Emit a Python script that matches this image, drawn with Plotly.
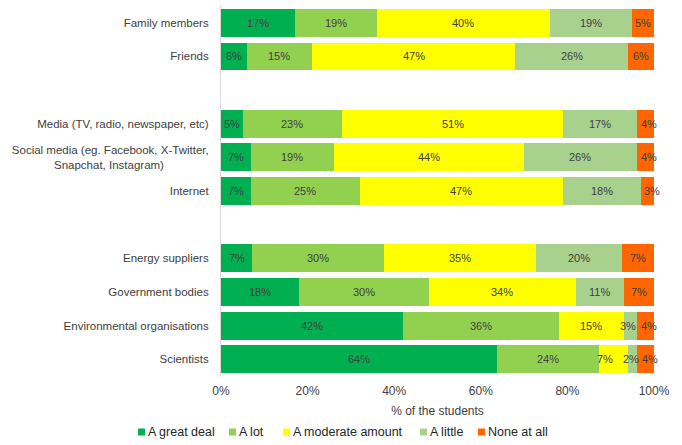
import plotly.graph_objects as go

categories = ["Family members", "Friends", "Media (TV, radio, newspaper, etc)",
              "Social media (eg. Facebook, X-Twitter,<br>Snapchat, Instagram)" + "\u00a0" * 14,
              "Internet", "Energy suppliers", "Government bodies",
              "Environmental organisations", "Scientists"]
slots = [0, 1, 3, 4, 5, 7, 8, 9, 10]

series_names = ["A great deal", "A lot", "A moderate amount", "A little", "None at all"]
great_deal = [17, 6, 5, 7, 7, 7.2, 18, 42, 63.8]
a_lot = [19, 15, 23, 19, 25, 30.4, 30, 36, 23.6]
moderate = [40, 47, 51, 44, 47, 35.1, 34, 15, 6.7]
a_little = [19, 26, 17, 26, 18, 19.9, 11, 3, 2.0]
none_at_all = [5, 6, 4, 4, 3, 7.4, 7, 4, 3.9]
series_values = [great_deal, a_lot, moderate, a_little, none_at_all]
colors = ["#00B050", "#92D050", "#FFFF00", "#A9D18E", "#FF6600"]

x_ticks = [0, 20, 40, 60, 80, 100]
x_ticktext = ["0%", "20%", "40%", "60%", "80%", "100%"]

# manual legend / layout geometry
W, H = 682, 445
ML, MR, MT, MB = 221, 28, 6, 69
PW, PH = W - ML - MR, H - MT - MB
legend_marker_px = [138, 229, 283, 420, 478]
legend_y_px = 432

def px_x(px):
    return (px - ML) / PW

def px_y(py):
    return (H - MB - py) / PH

font_family = "Liberation Sans, Arial, sans-serif"
fig = go.Figure()
annotations = []
shapes = []
cum = [0.0] * len(categories)
n_series = len(series_values)
for si, (name, vals, col) in enumerate(zip(series_names, series_values, colors)):
    fig.add_trace(go.Bar(
        y=slots, x=vals, name=name, orientation="h",
        marker=dict(color=col, line=dict(width=0)),
        width=0.83, textposition="none", hoverinfo="x+name",
        showlegend=False,
    ))
    for i, v in enumerate(vals):
        shift = 0
        if v < 5:
            shift = 4 if si == n_series - 1 else -2
        elif v < 8 and si < n_series - 1 and series_values[si + 1][i] < 5:
            shift = -9
        annotations.append(dict(
            x=cum[i] + v / 2, y=slots[i], xref="x", yref="y", xshift=shift,
            text=f"{round(v)}%", showarrow=False,
            font=dict(size=11, color="#404040", family=font_family),
        ))
        cum[i] += v

for name, col, mx in zip(series_names, colors, legend_marker_px):
    shapes.append(dict(type="rect", xref="paper", yref="paper",
                       x0=px_x(mx), x1=px_x(mx + 7),
                       y0=px_y(legend_y_px + 3.5), y1=px_y(legend_y_px - 3.5),
                       fillcolor=col, line=dict(width=0)))
    annotations.append(dict(x=px_x(mx + 8), y=px_y(legend_y_px), xref="paper", yref="paper",
                            xanchor="left", yanchor="middle", text=name, showarrow=False,
                            font=dict(size=12.5, color="#262626", family=font_family)))

fig.update_layout(
    width=W, height=H,
    margin=dict(l=ML, r=MR, t=MT, b=MB),
    paper_bgcolor="white", plot_bgcolor="white",
    barmode="stack", bargap=0,
    font=dict(family=font_family, size=12, color="#404040"),
    annotations=annotations, shapes=shapes,
    showlegend=False,
    xaxis=dict(range=[0, 100], tickvals=x_ticks, ticktext=x_ticktext, automargin=False,
               showgrid=False, zeroline=False, showline=False, ticks="",
               ticklabelstandoff=6,
               tickfont=dict(size=12, color="#404040"),
               title=dict(text="% of the students", standoff=9,
                          font=dict(size=12, color="#404040"))),
    yaxis=dict(range=[10.5, -0.5], tickvals=slots, ticktext=categories, automargin=False,
               showgrid=False, zeroline=False, showline=True, linecolor="#D9D9D9",
               ticks="", ticklabelstandoff=9,
               tickfont=dict(size=11.5, color="#404040")),
)

fig.write_html("out.html")
